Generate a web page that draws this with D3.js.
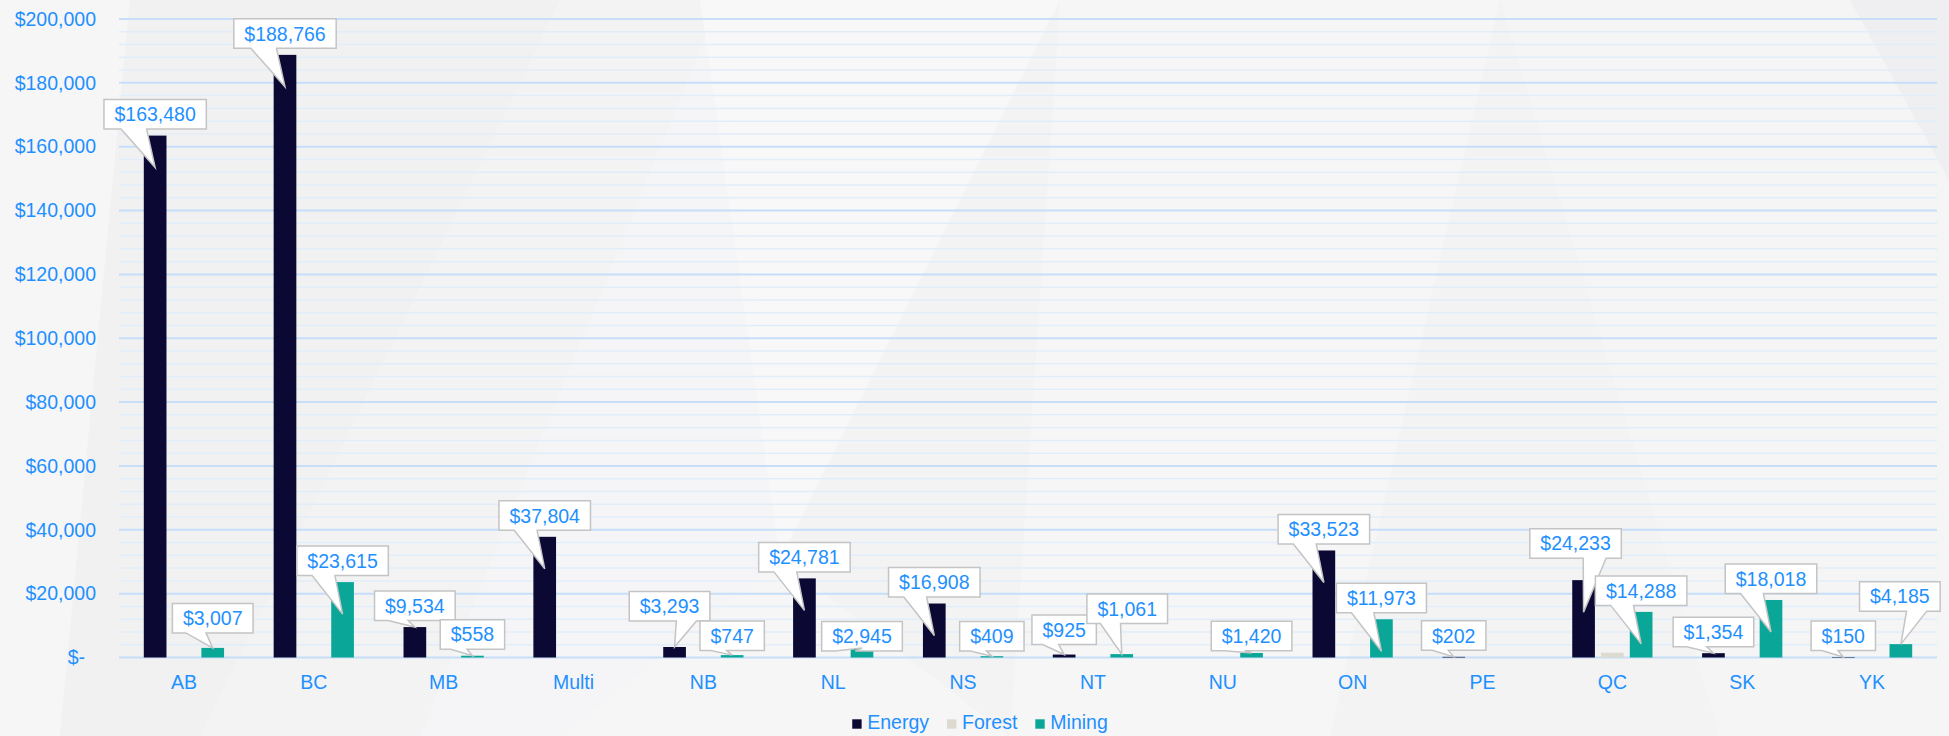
<!DOCTYPE html>
<html><head><meta charset="utf-8">
<script src="https://cdn.jsdelivr.net/npm/d3@7"></script>
<style>
body{margin:0;background:#f3f3f4;}
svg{display:block;font-family:"Liberation Sans",Arial,sans-serif;}
</style></head><body>
<svg id="chart" width="1949" height="736"></svg>
<script>
// ---- data ----
const categories = ["AB","BC","MB","Multi","NB","NL","NS","NT","NU","ON","PE","QC","SK","YK"];
const seriesNames = ["Energy","Forest","Mining"];
const energy = [163480,188766,9534,37804,3293,24781,16908,925,null,33523,202,24233,1354,150];
const forest = [null,null,null,null,null,null,null,null,null,null,null,1500,null,null];
const mining = [3007,23615,558,null,747,2945,409,1061,1420,11973,null,14288,18018,4185];
const yTicks = [0,20000,40000,60000,80000,100000,120000,140000,160000,180000,200000];
const labelledSeries = ["Energy","Mining"];

// ---- layout / style (not data) ----
const colors = {Energy:"#0b0934", Forest:"#dddad0", Mining:"#0aa798"};
const textBlue = "#1e90ff";
// manual callout nudges (extra lift in px, horizontal shift in px)
const calloutNudge = [
  {cat:"AB", s:"Mining", lift:8.5, dx:0},
  {cat:"NB", s:"Energy", lift:19.5, dx:-5},
  {cat:"NB", s:"Mining", lift:-2, dx:0},
  {cat:"NL", s:"Mining", lift:-9.5, dx:0},
  {cat:"NS", s:"Mining", lift:-1.3, dx:0},
  {cat:"NT", s:"Energy", lift:3.5, dx:0},
  {cat:"NT", s:"Mining", lift:24, dx:5.5},
  {cat:"NU", s:"Mining", lift:-4.2, dx:0},
  {cat:"QC", s:"Energy", lift:15.5, dx:-8},
  {cat:"YK", s:"Mining", lift:26.5, dx:-1}
];

const seriesData = {Energy:energy, Forest:forest, Mining:mining};
const svg = d3.select("#chart");
const W = 1949, H = 736;

// background facets (subtle)
const bg = svg.append("g");
bg.append("rect").attr("width",W).attr("height",H).attr("fill","#f3f3f4");
const facets = [
  {p:[[0,0],[130,0],[60,736],[0,736]], f:"#ffffff", o:0.3},
  {p:[[130,0],[560,0],[200,736],[60,736]], f:"#ebebec", o:0.25},
  {p:[[700,0],[1060,0],[780,560]], f:"#ffffff", o:0.4},
  {p:[[720,0],[780,560],[560,736],[420,736]], f:"#f8f8f9", o:0.5},
  {p:[[1060,0],[1500,0],[1330,736],[1010,736]], f:"#f9f9fa", o:0.5},
  {p:[[1500,0],[1949,0],[1949,736],[1720,736]], f:"#f7f7f8", o:0.5},
  {p:[[1850,0],[1949,0],[1949,180]], f:"#eaeaeb", o:0.5},
  {p:[[780,560],[1010,736],[560,736]], f:"#fafafa", o:0.4}
];
bg.selectAll("polygon").data(facets).join("polygon")
  .attr("points",d=>d.p.map(q=>q.join(",")).join(" "))
  .attr("fill",d=>d.f).attr("opacity",d=>d.o);

// scales
const x0 = d3.scaleBand().domain(categories).range([119,1937]).padding(0);
const groupW = x0.bandwidth()*0.618;
const x1 = d3.scaleBand().domain(seriesNames).range([0,groupW]).paddingInner(0.212).paddingOuter(0);
const y = d3.scaleLinear().domain([0,200000]).range([657.5,19]);
const barX = (c,s) => x0(c) + (x0.bandwidth()-groupW)/2 + x1(s);

// grid
const minor = d3.range(0,200001,4000).filter(v=>yTicks.indexOf(v)<0);
svg.append("g").selectAll("line").data(minor).join("line")
  .attr("x1",119).attr("x2",1937).attr("y1",d=>y(d)).attr("y2",d=>y(d))
  .attr("stroke","#e2edfa").attr("stroke-width",1.5);
svg.append("g").selectAll("line").data(yTicks).join("line")
  .attr("x1",119).attr("x2",1937).attr("y1",d=>y(d)).attr("y2",d=>y(d))
  .attr("stroke","#c6def7").attr("stroke-width",2);

// y axis
const fmt = d3.format("$,");
const yAxis = svg.append("g").attr("transform","translate(119,0)")
  .call(d3.axisLeft(y).tickValues(yTicks).tickSize(0).tickPadding(23)
        .tickFormat(v=> v===0 ? "$-" : fmt(v)));
yAxis.select(".domain").remove();
yAxis.selectAll("text").attr("fill",textBlue).attr("font-size",19.5)
  .attr("font-family","Liberation Sans, Arial, sans-serif")
  .filter(d=>d===0).attr("x",-34);

// x axis
const xAxis = svg.append("g").attr("transform","translate(0,657.5)")
  .call(d3.axisBottom(x0).tickSize(0));
xAxis.select(".domain").remove();
xAxis.selectAll("text").attr("fill",textBlue).attr("font-size",19.5)
  .attr("font-family","Liberation Sans, Arial, sans-serif")
  .attr("y",24.5).attr("dy","0.35em");

// bars
const bars = [];
seriesNames.forEach(s=>{
  seriesData[s].forEach((v,i)=>{
    if(v!==null) bars.push({cat:categories[i], s, v});
  });
});
svg.append("g").selectAll("rect").data(bars).join("rect")
  .attr("x",d=>barX(d.cat,d.s)).attr("width",x1.bandwidth())
  .attr("y",d=>y(d.v)).attr("height",d=>y(0)-y(d.v))
  .attr("fill",d=>colors[d.s]);

// callouts
const labG = svg.append("g");
bars.filter(d=>labelledSeries.indexOf(d.s)>=0).forEach(d=>{
  const nudge = calloutNudge.find(n=>n.cat===d.cat && n.s===d.s) || {lift:0,dx:0};
  const cx = barX(d.cat,d.s) + x1.bandwidth()/2;
  const top = y(d.v);
  const hgt = y(0)-top;
  const tipX = cx, tipY = hgt>35 ? top+32 : top;
  const g = labG.append("g");
  const t = g.append("text").text(fmt(d.v)).attr("font-size",19.5)
    .attr("fill",textBlue).attr("text-anchor","middle");
  const tw = t.node().getComputedTextLength();
  const bw = tw+21, bh = 29.5;
  const bx = cx + nudge.dx - bw/2;
  const by = top - 6.5 - nudge.lift - bh;
  const dxPos = tipX - (bx+bw/2);
  const b1 = bx + bw*(dxPos>0.5 ? 7 : 2)/12;
  const b2 = bx + bw*(dxPos>0.5 ? 10 : 5)/12;
  const path = `M${bx},${by}H${bx+bw}V${by+bh}H${b2}L${tipX},${tipY}L${b1},${by+bh}H${bx}Z`;
  g.insert("path","text").attr("d",path).attr("fill","#ffffff")
    .attr("stroke","#c4c4c4").attr("stroke-width",1.5).attr("stroke-linejoin","miter");
  t.attr("x",bx+bw/2).attr("y",by+bh/2).attr("dy","0.36em");
});

// legend
const leg = svg.append("g");
const items = seriesNames.map(s=>({s}));
let lx = 0;
const legItems = leg.selectAll("g").data(items).join("g");
legItems.append("rect").attr("width",9.4).attr("height",9.4).attr("y",-9.4)
  .attr("fill",d=>colors[d.s]);
legItems.append("text").attr("x",15).attr("y",0).attr("font-size",19.5)
  .attr("fill",textBlue).text(d=>d.s);
legItems.each(function(d){
  const w = d3.select(this).select("text").node().getComputedTextLength()+15;
  d3.select(this).attr("transform",`translate(${lx},0)`);
  lx += w + 18;
});
const legW = lx - 18;
leg.attr("transform",`translate(${980 - legW/2},728.7)`);
</script>
</body></html>
